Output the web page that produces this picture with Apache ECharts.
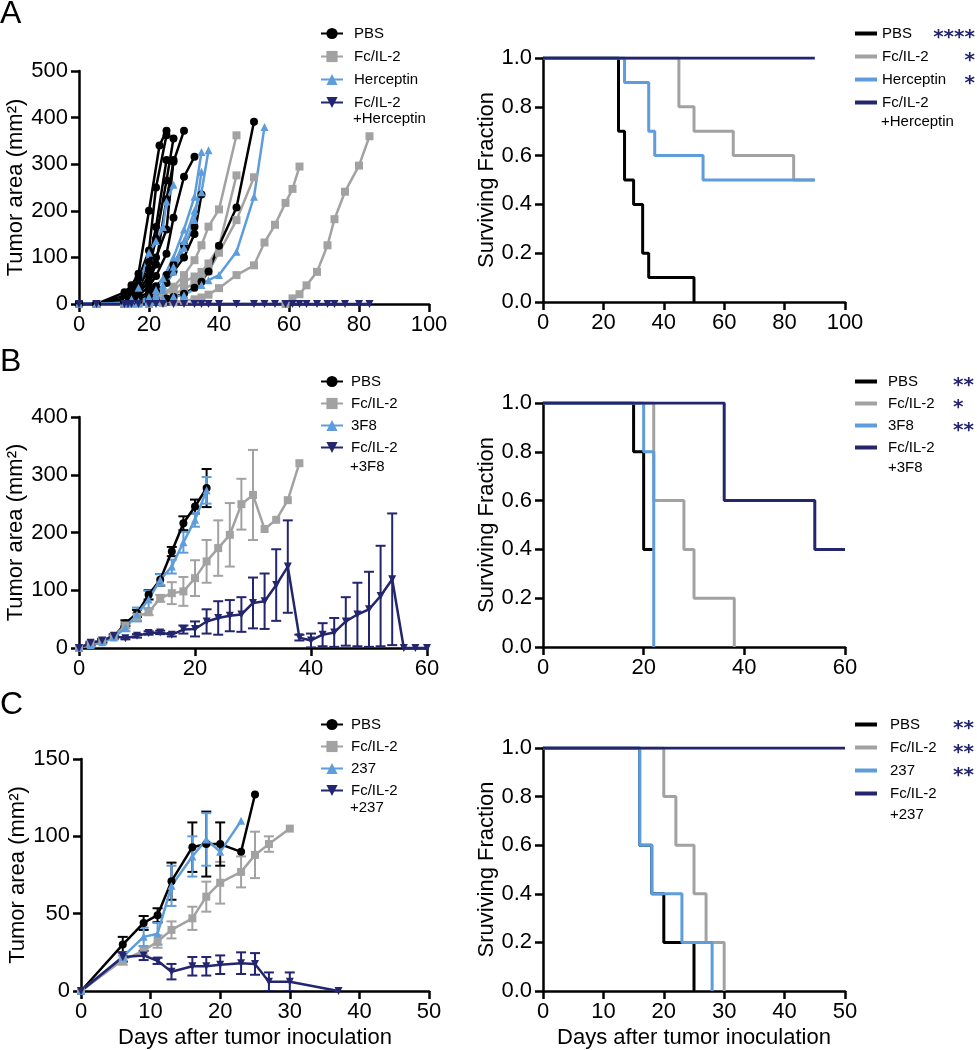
<!DOCTYPE html>
<html>
<head>
<meta charset="utf-8">
<script src="https://cdn.jsdelivr.net/npm/echarts@6/dist/echarts.min.js"></script>
<style>
html, body { margin: 0; padding: 0; background: #fff; }
#main { width: 977px; height: 1050px; }
</style>
</head>
<body>
<div id="main"></div>
<script>
// ---- panel A, individual mice [day, area] ----
const aPBS = [
  [[0,0],[5,0],[13,25],[15,40],[17,65],[20,200],[23,340],[25,372]],
  [[0,0],[5,0],[13,18],[15,30],[17,55],[20,115],[22,250],[25,362]],
  [[0,0],[5,0],[13,12],[15,22],[17,40],[20,90],[22,165],[25,309]],
  [[0,0],[5,0],[13,10],[15,18],[17,35],[20,75],[22,140],[25,265],[27,355]],
  [[0,0],[5,0],[13,8],[15,14],[17,28],[20,60],[22,100],[25,160],[27,309]],
  [[0,0],[5,0],[13,6],[15,12],[17,22],[20,50],[22,85],[25,225],[27,305],[30,372]],
  [[0,0],[5,0],[13,5],[15,10],[17,18],[20,38],[22,60],[25,108],[27,185],[30,273],[33,316]],
  [[0,0],[5,0],[13,4],[15,8],[17,14],[20,25],[22,38],[25,62],[27,85],[30,126],[33,166]],
  [[0,0],[5,0],[13,3],[15,6],[17,10],[20,18],[22,28],[25,45],[27,70],[30,100],[33,150],[35,235]],
  [[0,0],[5,0],[13,2],[15,3],[17,5],[20,7],[22,9],[25,12],[27,15],[30,22],[33,35],[35,48],[37,70],[40,125],[45,207],[50,391]]
];
const aFc = [
  [[0,0],[5,0],[13,0],[17,3],[20,8],[22,16],[24,23],[27,37],[30,62],[33,94],[35,126],[37,166],[40,203],[45,362]],
  [[0,0],[5,0],[13,0],[17,2],[20,6],[22,12],[24,20],[27,30],[30,48],[33,59],[35,69],[37,87],[40,123],[45,276]],
  [[0,0],[5,0],[13,0],[17,1],[20,3],[22,6],[24,10],[27,20],[30,32],[33,45],[35,55],[37,70],[40,110],[45,180],[50,272]],
  [[0,0],[5,0],[13,0],[20,0],[24,2],[27,4],[30,7],[33,10],[35,14],[37,20],[40,34],[45,62],[50,83],[53,132],[56,170],[59,217],[61,247],[63,295]],
  [[0,0],[59,0],[61,12],[63,21],[65,40],[68,69],[71,126],[73,182],[76,241],[80,297],[83,360]]
];
const aHer = [
  [[0,0],[5,0],[13,3],[15,10],[17,35],[20,110],[22,135],[24,165],[25,220],[27,256]],
  [[0,0],[5,0],[13,0],[15,2],[17,5],[20,15],[22,30],[24,55],[27,100],[30,160],[33,230],[35,326]],
  [[0,0],[5,0],[13,0],[15,1],[17,4],[20,10],[22,20],[24,40],[27,80],[30,135],[33,200],[35,240],[37,330]],
  [[0,0],[5,0],[13,0],[15,1],[17,3],[20,8],[22,15],[24,30],[27,70],[30,120],[33,180],[35,284]],
  [[0,0],[5,0],[13,0],[17,1],[20,3],[22,6],[24,12],[27,16],[30,19],[35,41],[37,51],[40,62],[45,112],[50,230],[53,380]]
];
const aComboDays = [0,5,13,14,15,17,20,22,24,27,30,33,35,37,40,45,50,53,56,59,61,63,65,68,71,73,76,80,83];
const aComboVals = [0,0,0,0,0,0,0,0,0,0,0,0,0,0,0,0,0,0,0,0,0,0,0,0,0,0,0,0,0];

// ---- panel B, mean and SEM ----
const bDays = [0,2,4,6,8,10,12,14,16,18,20,22,24,26,28,30,32,34,36,38,40,42,44,46,48,50,52,54,56,58,60];
const bPBS = [0,7,12,19,43,60,92,118,167,216,245,277];
const bPBSsem = [0,2,3,3,5,6,8,10,8,12,12,33];
const bFc = [0,7,12,20,39,54,62,86,95,98,121,150,173,196,249,265,206,222,256,320];
const bFcSem = [0,2,2,3,5,6,5,6,19,25,31,37,48,55,44,78,0,0,0,0];
const b3F8 = [0,5,10,18,35,58,84,118,141,183,222,273];
const b3F8sem = [0,2,3,3,6,12,15,10,12,18,12,23];
const bCombo = [0,9,13,21,17,21,26,27,23,32,33,46,52,56,58,78,81,109,141,18,13,23,27,46,58,67,90,119,0,0,0];
const bComboSem = [0,2,3,3,2,3,3,3,3,7,13,21,29,27,30,44,48,62,80,5,12,20,25,42,55,65,87,114,0,0,0];

// ---- panel C, mean and SEM ----
const cPBSdays = [0,6,9,11,13,16,18,20,23,25];
const cPBS = [0,30,44,49,71,93,95,95,90,127];
const cPBSsem = [0,5,4.5,4.5,12,16,21,14,0,0];
const cFcDays = [0,6,9,11,13,16,18,20,23,25,27,30];
const cFc = [0,20,26,32,39.5,47,61,70,77,88,95,105];
const cFcSem = [0,3,3,4,5.5,7.5,9.7,13.5,10,15,5,0];
const c237days = [0,6,9,11,13,16,18,20,23];
const c237 = [0,22,35,37,68,87,98,90,110];
const c237sem = [0,3,6,7,13,13,17,0,0];
const cComboDays = [0,6,9,11,13,16,18,20,23,25,27,30,37];
const cCombo = [0,22,23,19.5,12.5,16,16,17,18,17.5,6,6,0];
const cComboSem = [0,3,3,2,5,6,6,6,7,7,6,6,0];

// ---- survival [day, fraction] ----
const survA = {
  pbs: [[0,1],[25,0.7],[27,0.5],[30,0.4],[33,0.2],[35,0.1],[50,0]],
  fc: [[0,1],[45,0.8],[50,0.7],[63,0.6],[83,0.5],[90,0.5]],
  ab: [[0,1],[27,0.9],[35,0.7],[37,0.6],[53,0.5],[90,0.5]],
  combo: [[0,1],[90,1]]
};
const survB = {
  pbs: [[0,1],[18,0.8],[20,0.4],[22,0.4]],
  fc: [[0,1],[22,0.6],[28,0.4],[30,0.2],[38,0]],
  ab: [[0,1],[20,0.8],[22,0]],
  combo: [[0,1],[36,0.6],[54,0.4],[60,0.4]]
};
const survC = {
  pbs: [[0,1],[16,0.6],[18,0.4],[20,0.2],[25,0]],
  fc: [[0,1],[20,0.8],[22,0.6],[25,0.4],[27,0.2],[30,0]],
  ab: [[0,1],[16,0.6],[18,0.4],[23,0.2],[28,0]],
  combo: [[0,1],[50,1]]
};
const starsA = ['****', '*', '*'];
const starsB = ['**', '*', '**'];
const starsC = ['**', '**', '**'];

const FONT = '"Liberation Sans", Arial, Helvetica, sans-serif';
const BLACK = '#000000', GRAY = '#a2a2a2', LBLUE = '#5e9ddb', NAVY = '#23256f';

const chart = echarts.init(document.getElementById('main'));

const grids = [
  {left: 79, top: 71, width: 350, height: 233},
  {left: 543, top: 58, width: 302, height: 244},
  {left: 79, top: 417, width: 348, height: 231},
  {left: 543, top: 403, width: 302, height: 244},
  {left: 81, top: 759, width: 348, height: 232},
  {left: 543, top: 748, width: 302, height: 244}
];

function xAx(gi, max, interval, name) {
  return {
    type: 'value', gridIndex: gi, min: 0, max: max, interval: interval,
    name: name || '', nameLocation: 'middle', nameGap: 36,
    nameTextStyle: {fontSize: 22, color: '#000', fontFamily: FONT},
    axisLine: {show: true, onZero: false, lineStyle: {color: '#000', width: 2.5}},
    axisTick: {show: true, length: 8, lineStyle: {color: '#000', width: 2.5}},
    axisLabel: {fontSize: 22, color: '#000', fontFamily: FONT, margin: 10},
    splitLine: {show: false}
  };
}
function yAx(gi, max, interval, name, gap, fmt) {
  return {
    type: 'value', gridIndex: gi, min: 0, max: max, interval: interval,
    name: name, nameLocation: 'middle', nameGap: gap,
    nameTextStyle: {fontSize: 22, color: '#000', fontFamily: FONT},
    axisLine: {show: true, onZero: false, lineStyle: {color: '#000', width: 2.5}},
    axisTick: {show: true, length: 8, lineStyle: {color: '#000', width: 2.5}},
    axisLabel: {fontSize: 22, color: '#000', fontFamily: FONT, margin: 11, formatter: fmt},
    splitLine: {show: false}
  };
}
const frac = v => v.toFixed(1);
const tumorName = 'Tumor area (mm²)';
// series names carry a panel tag after '@' so each legend finds its own series
const nm = (label, p) => label + '@' + p;

function curve(name, data, color, symbol, gi, rot) {
  return {
    type: 'line', name: name, data: data, xAxisIndex: gi, yAxisIndex: gi,
    color: color, symbol: symbol, symbolSize: 8, symbolRotate: rot || 0,
    lineStyle: {width: 2.5, color: color}, itemStyle: {color: color},
    animation: false, z: 3
  };
}
function zip(days, vals) {
  return vals.map((v, i) => [days[i], v]);
}
function errBars(name, days, vals, sems, color, gi) {
  const data = [];
  vals.forEach((v, i) => { if (sems[i] > 0) data.push([days[i], v - sems[i], v + sems[i]]); });
  return {
    type: 'custom', name: name, xAxisIndex: gi, yAxisIndex: gi, data: data, z: 2,
    clip: true, animation: false, silent: true,
    renderItem: function (params, api) {
      const lo = api.coord([api.value(0), api.value(1)]);
      const hi = api.coord([api.value(0), api.value(2)]);
      const w = 5;
      const st = {stroke: color, lineWidth: 2};
      return {
        type: 'group',
        children: [
          {type: 'line', shape: {x1: lo[0], y1: lo[1], x2: hi[0], y2: hi[1]}, style: st},
          {type: 'line', shape: {x1: hi[0] - w, y1: hi[1], x2: hi[0] + w, y2: hi[1]}, style: st},
          {type: 'line', shape: {x1: lo[0] - w, y1: lo[1], x2: lo[0] + w, y2: lo[1]}, style: st}
        ]
      };
    }
  };
}
function km(name, data, color, gi) {
  return {
    type: 'line', name: name, data: data, xAxisIndex: gi, yAxisIndex: gi,
    step: 'end', symbol: 'none', color: color,
    lineStyle: {width: 3, color: color}, animation: false
  };
}
function legend(names, left, top, gap, pad, plain) {
  const lg = {
    orient: 'vertical', left: left, top: top, padding: 0,
    itemWidth: 22, itemHeight: plain ? 4 : 14, itemGap: gap,
    data: names, selectedMode: false,
    formatter: function (n) {
      const i = names.indexOf(n);
      const disp = i === 3 ? 'Fc/IL-2' : n.split('@')[0];
      return '{n|' + disp + '}';
    },
    textStyle: {
      color: '#000', fontSize: 15, fontFamily: FONT,
      rich: {n: {fontSize: 15, fontFamily: FONT, color: '#000', lineHeight: 15, padding: [0, 0, 0, pad]}}
    }
  };
  if (plain) lg.icon = 'rect';
  return lg;
}

const series = [];
aFc.forEach(m => series.push(curve(nm('Fc/IL-2', 'a'), m, GRAY, 'rect', 0)));
aPBS.forEach(m => series.push(curve(nm('PBS', 'a'), m, BLACK, 'circle', 0)));
aHer.forEach(m => series.push(curve(nm('Herceptin', 'a'), m, LBLUE, 'triangle', 0)));
series.push(curve(nm('Fc/IL-2 +Herceptin', 'a'), zip(aComboDays, aComboVals), NAVY, 'triangle', 0, 180));

series.push(km(nm('PBS', 'as'), survA.pbs, BLACK, 1));
series.push(km(nm('Fc/IL-2', 'as'), survA.fc, GRAY, 1));
series.push(km(nm('Herceptin', 'as'), survA.ab, LBLUE, 1));
series.push(km(nm('Fc/IL-2 +Herceptin', 'as'), survA.combo, NAVY, 1));

series.push(curve(nm('PBS', 'b'), zip(bDays, bPBS), BLACK, 'circle', 2));
series.push(curve(nm('Fc/IL-2', 'b'), zip(bDays, bFc), GRAY, 'rect', 2));
series.push(curve(nm('3F8', 'b'), zip(bDays, b3F8), LBLUE, 'triangle', 2));
series.push(curve(nm('Fc/IL-2 +3F8', 'b'), zip(bDays, bCombo), NAVY, 'triangle', 2, 180));
series.push(errBars(nm('Fc/IL-2', 'b'), bDays, bFc, bFcSem, GRAY, 2));
series.push(errBars(nm('PBS', 'b'), bDays, bPBS, bPBSsem, BLACK, 2));
series.push(errBars(nm('3F8', 'b'), bDays, b3F8, b3F8sem, LBLUE, 2));
series.push(errBars(nm('Fc/IL-2 +3F8', 'b'), bDays, bCombo, bComboSem, NAVY, 2));

series.push(km(nm('PBS', 'bs'), survB.pbs, BLACK, 3));
series.push(km(nm('Fc/IL-2', 'bs'), survB.fc, GRAY, 3));
series.push(km(nm('3F8', 'bs'), survB.ab, LBLUE, 3));
series.push(km(nm('Fc/IL-2 +3F8', 'bs'), survB.combo, NAVY, 3));

series.push(curve(nm('PBS', 'c'), zip(cPBSdays, cPBS), BLACK, 'circle', 4));
series.push(curve(nm('Fc/IL-2', 'c'), zip(cFcDays, cFc), GRAY, 'rect', 4));
series.push(curve(nm('237', 'c'), zip(c237days, c237), LBLUE, 'triangle', 4));
series.push(curve(nm('Fc/IL-2 +237', 'c'), zip(cComboDays, cCombo), NAVY, 'triangle', 4, 180));
series.push(errBars(nm('Fc/IL-2', 'c'), cFcDays, cFc, cFcSem, GRAY, 4));
series.push(errBars(nm('PBS', 'c'), cPBSdays, cPBS, cPBSsem, BLACK, 4));
series.push(errBars(nm('237', 'c'), c237days, c237, c237sem, LBLUE, 4));
series.push(errBars(nm('Fc/IL-2 +237', 'c'), cComboDays, cCombo, cComboSem, NAVY, 4));

series.push(km(nm('PBS', 'cs'), survC.pbs, BLACK, 5));
series.push(km(nm('Fc/IL-2', 'cs'), survC.fc, GRAY, 5));
series.push(km(nm('237', 'cs'), survC.ab, LBLUE, 5));
series.push(km(nm('Fc/IL-2 +237', 'cs'), survC.combo, NAVY, 5));

const labelsA = ['PBS', 'Fc/IL-2', 'Herceptin', 'Fc/IL-2 +Herceptin'];
const labelsB = ['PBS', 'Fc/IL-2', '3F8', 'Fc/IL-2 +3F8'];
const labelsC = ['PBS', 'Fc/IL-2', '237', 'Fc/IL-2 +237'];
const tag = (labels, p) => labels.map(l => nm(l, p));

function txt(s, x, y, size) {
  return {type: 'text', left: x, top: y, style: {text: s, fontSize: size, fontFamily: FONT, fill: '#000'}};
}
// significance stars next to the survival legends (x is the anchor, align says which edge)
function starTexts(stars, x, rows, align) {
  return stars.map((s, i) => ({
    type: 'text', x: x, y: rows[i] + 5,
    style: {text: s, fontSize: 20, fontWeight: 'bold', fontFamily: '"DejaVu Sans", sans-serif', fill: NAVY,
            textAlign: align, textVerticalAlign: 'middle'}
  }));
}

chart.setOption({
  backgroundColor: '#fff',
  animation: false,
  grid: grids,
  xAxis: [
    xAx(0, 100, 20), xAx(1, 100, 20),
    xAx(2, 60, 20), xAx(3, 60, 20),
    xAx(4, 50, 10, 'Days after tumor inoculation'), xAx(5, 50, 10, 'Days after tumor inoculation')
  ],
  yAxis: [
    yAx(0, 500, 100, tumorName, 50), yAx(1, 1, 0.2, 'Surviving Fraction', 44, frac),
    yAx(2, 400, 100, tumorName, 50), yAx(3, 1, 0.2, 'Surviving Fraction', 44, frac),
    yAx(4, 150, 50, tumorName, 52), yAx(5, 1, 0.2, 'Sruviving Fraction', 44, frac)
  ],
  legend: [
    legend(tag(labelsA, 'a'), 320, 26, 8, 6),
    legend(tag(labelsA, 'as'), 855, 26, 8, 0, true),
    legend(tag(labelsB, 'b'), 320, 374, 7, 3),
    legend(tag(labelsB, 'bs'), 855, 374, 7, 6, true),
    legend(tag(labelsC, 'c'), 320, 717, 7, 3),
    legend(tag(labelsC, 'cs'), 855, 717, 8, 8, true)
  ],
  graphic: [
    txt('A', 0, -2, 32), txt('B', 0, 346, 32), txt('C', 0, 689, 32),
    txt('+Herceptin', 353, 111, 15), txt('+Herceptin', 881, 114, 15),
    txt('+3F8', 350, 459, 15), txt('+3F8', 888, 460, 15),
    txt('+237', 350, 800, 15), txt('+237', 890, 807, 15)
  ].concat(
    starTexts(starsA, 975, [33, 56, 79], 'right'),
    starTexts(starsB, 953, [381, 403, 426], 'left'),
    starTexts(starsC, 953, [724, 748, 771], 'left')
  ),
  series: series
});
</script>
</body>
</html>
